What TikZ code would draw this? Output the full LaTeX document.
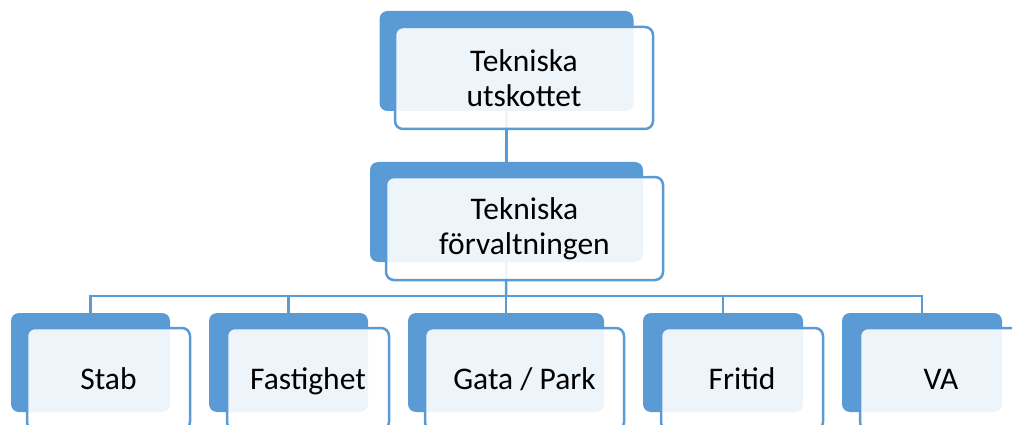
\documentclass[tikz,border=0pt]{standalone}
\usepackage{fontspec}
\setmainfont{Carlito}
\definecolor{accent}{HTML}{5B9BD5}
\begin{document}
\begin{tikzpicture}[x=1pt,y=-1pt,
  backbox/.style={fill=accent, draw=none, rounded corners=8pt, inner sep=0pt},
  frontbox/.style={draw=accent, line width=2.5pt, fill=white, fill opacity=0.9, text opacity=1,
    rounded corners=8pt, inner sep=0pt, align=center, text=black,
    font=\fontsize{31.5}{34.7}\selectfont},
  oneline/.style={text height=21pt, text depth=0pt},
  link/.style={draw=accent, line width=2.5pt}]
\useasboundingbox (0,0) rectangle (1012,425);
% back boxes
\node[backbox, minimum width=254pt, minimum height=100pt] (topb) at (506.5,61) {};
\node[backbox, minimum width=273pt, minimum height=100pt] (midb) at (506.5,212) {};
\node[backbox, minimum width=159pt, minimum height=99pt] (stabb) at (90.5,362.5) {};
\node[backbox, minimum width=159pt, minimum height=99pt] (fastb) at (288.5,362.5) {};
\node[backbox, minimum width=196pt, minimum height=99pt] (gatab) at (506,362.5) {};
\node[backbox, minimum width=160pt, minimum height=99pt] (fritb) at (723,362.5) {};
\node[backbox, minimum width=160pt, minimum height=99pt] (vab) at (922,362.5) {};
% connectors
\coordinate (bus) at (506,296);
\draw[link] (topb.south) -- (midb.north);
\draw[link] (midb.south) -- (bus);
\draw[link] (bus) -| (stabb.north);
\draw[link] (bus) -| (fastb.north);
\draw[link] (bus) -- (gatab.north);
\draw[link] (bus) -| (fritb.north);
\draw[link] (bus) -| (vab.north);
% front boxes
\node[frontbox, minimum width=258pt, minimum height=102pt] (topf) at (524,78) {Tekniska\\utskottet};
\node[frontbox, minimum width=277pt, minimum height=103pt] (midf) at (524.5,228.5) {Tekniska\\förvaltningen};
\node[frontbox, oneline, minimum width=163pt, minimum height=102pt] (stabf) at (108.5,379) {Stab};
\node[frontbox, oneline, minimum width=162pt, minimum height=102pt] (fastf) at (308,379) {Fastighet};
\node[frontbox, oneline, minimum width=199pt, minimum height=102pt] (gataf) at (524.5,379) {Gata / Park};
\node[frontbox, oneline, minimum width=162pt, minimum height=102pt] (fritf) at (742,379) {Fritid};
\node[frontbox, oneline, minimum width=162pt, minimum height=102pt] (vaf) at (941,379) {VA};
\end{tikzpicture}
\end{document}
